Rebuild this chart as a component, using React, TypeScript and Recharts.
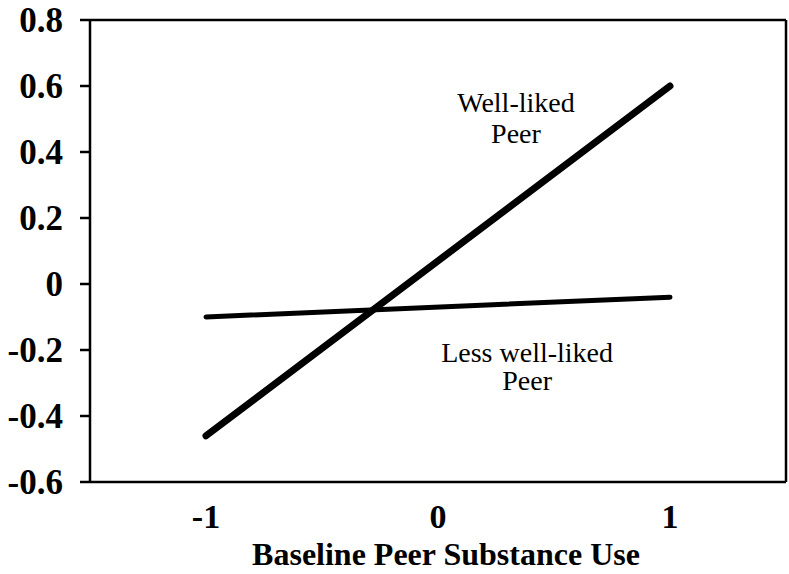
import React from "react";
import {
  LineChart,
  Line,
  XAxis,
  YAxis,
  ReferenceLine,
  ReferenceDot,
} from "recharts";

const xValues = [-1, 1];
const wellLiked = [-0.46, 0.6];
const lessWellLiked = [-0.1, -0.04];
const xTicks = [-1, 0, 1];
const yTicks = [-0.6, -0.4, -0.2, 0, 0.2, 0.4, 0.6, 0.8];

const data = xValues.map((x, i) => ({
  x,
  well: wellLiked[i],
  less: lessWellLiked[i],
}));

const font = "'Liberation Serif', 'Times New Roman', serif";

const fmtY = (v: number) => (v === 0 ? "0" : v.toFixed(1));

const note = (text: string) => ({
  value: text,
  position: "center" as const,
  fill: "#000",
  fontSize: 28,
  fontFamily: font,
});

export default function App() {
  return (
    <div style={{ position: "absolute", left: 0, top: 0, background: "#fff" }}>
      <LineChart
        width={789}
        height={574}
        data={data}
        margin={{ top: 20, right: 3, bottom: 0, left: 0 }}
      >
        <XAxis
          dataKey="x"
          type="number"
          domain={[-1.5, 1.5]}
          ticks={xTicks}
          tickLine={false}
          axisLine={{ stroke: "#000", strokeWidth: 2.5 }}
          tick={{ fill: "#000", fontSize: 34, fontWeight: "bold", fontFamily: font }}
          tickMargin={16}
          height={92}
          label={{
            value: "Baseline Peer Substance Use",
            position: "insideBottom",
            offset: 9,
            dx: 8,
            fill: "#000",
            fontSize: 32,
            fontWeight: "bold",
            fontFamily: font,
          }}
        />
        <YAxis
          type="number"
          domain={[-0.6, 0.8]}
          ticks={yTicks}
          width={90}
          tickSize={10}
          tickLine={{ stroke: "#000", strokeWidth: 2.5 }}
          axisLine={{ stroke: "#000", strokeWidth: 2.5 }}
          tick={{ fill: "#000", fontSize: 35, fontWeight: "bold", fontFamily: font }}
          tickMargin={17}
          tickFormatter={fmtY}
        />
        <ReferenceLine y={0.8} stroke="#000" strokeWidth={2.5} />
        <ReferenceLine x={1.5} stroke="#000" strokeWidth={2.5} />
        <Line
          dataKey="well"
          stroke="#000"
          strokeWidth={7}
          strokeLinecap="round"
          dot={false}
          activeDot={false}
          isAnimationActive={false}
        />
        <Line
          dataKey="less"
          stroke="#000"
          strokeWidth={5}
          strokeLinecap="round"
          dot={false}
          activeDot={false}
          isAnimationActive={false}
        />
        <ReferenceDot x={0.336} y={0.552} r={0} stroke="none" label={note("Well-liked")} />
        <ReferenceDot x={0.336} y={0.458} r={0} stroke="none" label={note("Peer")} />
        <ReferenceDot x={0.384} y={-0.206} r={0} stroke="none" label={note("Less well-liked")} />
        <ReferenceDot x={0.384} y={-0.291} r={0} stroke="none" label={note("Peer")} />
      </LineChart>
    </div>
  );
}
